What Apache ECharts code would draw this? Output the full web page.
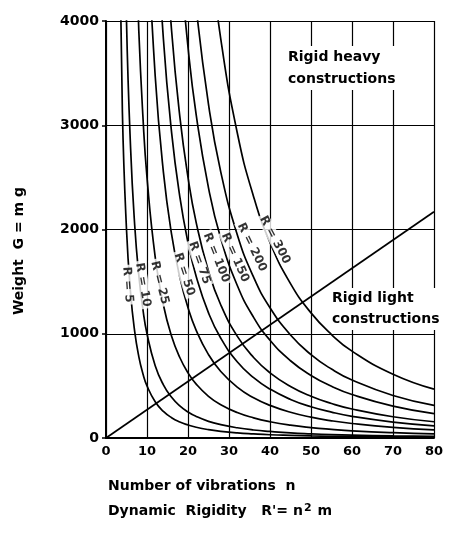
<!DOCTYPE html>
<html>
<head>
<meta charset="utf-8">
<script src="https://cdn.jsdelivr.net/npm/echarts@6/dist/echarts.min.js"></script>
<style>
html,body{margin:0;padding:0;background:#fff}
#container{width:449px;height:536px}
</style>
</head>
<body>
<div id="container"></div>
<script>
// n values the curves were read at (number of vibrations)
var nValues = [2,3,4,5,6,7,8,9,10,12,14,16,18,20,22,25,28,32,36,40,45,50,55,60,70,80];

// weight G, aligned with the tail of nValues
var curveR5   = [5556,3125,2000,1389,1020,781,617,500,347,255,195,154,125,103,80,64,49,39,31,25,20,17,14,10,8];
var curveR10  = [6250,4000,2778,2041,1563,1235,1000,694,510,391,309,250,207,160,128,98,77,63,49,40,33,28,20,16];
var curveR25  = [5102,3906,3086,2500,1736,1276,977,772,625,517,400,319,244,193,156,123,100,83,69,51,39];
var curveR50  = [5000,3472,2551,1953,1543,1250,1033,800,638,488,386,313,247,200,165,139,102,78];
var curveR75  = [5208,3827,2930,2315,1875,1550,1200,957,732,579,469,370,300,248,208,153,117];
var curveR100 = [5102,3906,3086,2500,2066,1600,1276,977,772,625,494,400,331,278,204,156];
var curveR150 = [4630,3750,3099,2400,1913,1465,1157,938,741,600,496,417,306,234];
var curveR200 = [4132,3200,2551,1953,1543,1250,988,800,661,556,408,313];
var curveR300 = [4800,3827,2930,2315,1875,1481,1200,992,833,612,469];

// the straight line between light and heavy constructions
var lineN = [0, 80];
var lineG = [0, 2170];

// curve labels
var labelText = ['R = 5','R = 10','R = 25','R = 50','R = 75','R = 100','R = 150','R = 200','R = 300'];
var labelN = [5.3, 9.0, 13.1, 19.1, 22.8, 26.9, 31.5, 35.6, 41.2];
var labelG = [1470, 1470, 1490, 1570, 1680, 1730, 1730, 1830, 1900];
var labelRot = [-86, -80, -76, -72, -70, -68, -66, -64, -62];

var xTicks = [0,10,20,30,40,50,60,70,80];
var yTicks = [0,1000,2000,3000,4000];

var curves = [curveR5, curveR10, curveR25, curveR50, curveR75, curveR100, curveR150, curveR200, curveR300];

function pairs(vals) {
    var off = nValues.length - vals.length;
    return vals.map(function (g, i) { return [nValues[i + off], g]; });
}

var font = 'DejaVu Sans';
var series = curves.map(function (c, i) {
    return {
        type: 'line',
        data: pairs(c),
        smooth: 0.5,
        showSymbol: false,
        clip: true,
        lineStyle: {color: '#000', width: 1.7},
        z: 3
    };
});
series.push({
    type: 'line',
    data: lineN.map(function (n, i) { return [n, lineG[i]]; }),
    showSymbol: false,
    lineStyle: {color: '#000', width: 1.7},
    z: 3
});
series.push({
    type: 'scatter',
    symbolSize: 0,
    z: 6,
    data: labelText.map(function (t, i) {
        return {
            value: [labelN[i], labelG[i]],
            label: {formatter: t, rotate: labelRot[i]}
        };
    }),
    label: {
        show: true,
        position: 'inside',
        color: '#000',
        fontFamily: font,
        fontWeight: 'bold',
        fontSize: 12,
        backgroundColor: '#fff',
        padding: [0, 2]
    }
});

var chart = echarts.init(document.getElementById('container'));
chart.setOption({
    animation: false,
    backgroundColor: '#fff',
    grid: {left: 106, right: 15, top: 21, bottom: 98},
    xAxis: {
        type: 'value',
        min: xTicks[0],
        max: xTicks[xTicks.length - 1],
        interval: 10,
        axisLine: {lineStyle: {color: '#000', width: 2}},
        axisTick: {show: false},
        splitLine: {show: true, lineStyle: {color: '#000', width: 1.2}},
        axisLabel: {color: '#000', fontFamily: font, fontWeight: 'bold', fontSize: 13, margin: 7,
            formatter: function (v) { return String(v); }}
    },
    yAxis: {
        type: 'value',
        min: yTicks[0],
        max: yTicks[yTicks.length - 1],
        interval: 1000,
        axisLine: {show: true, lineStyle: {color: '#000', width: 2}},
        axisTick: {show: true, length: 4, lineStyle: {color: '#000', width: 1.5}},
        splitLine: {show: true, lineStyle: {color: '#000', width: 1.2}},
        axisLabel: {color: '#000', fontFamily: font, fontWeight: 'bold', fontSize: 14, margin: 7,
            formatter: function (v) { return String(v); }}
    },
    graphic: [
        {type: 'text', left: 288, top: 46, z: 10,
            style: {text: 'Rigid heavy\nconstructions', fill: '#000', font: 'bold 14px DejaVu Sans', lineHeight: 22, backgroundColor: '#fff'}},
        {type: 'text', left: 332, top: 288, z: 10,
            style: {text: 'Rigid light\nconstructions', fill: '#000', font: 'bold 14px DejaVu Sans', lineHeight: 21, backgroundColor: '#fff'}},
        {type: 'text', left: 108, top: 479,
            style: {text: 'Number of vibrations  n', fill: '#000', font: 'bold 14px DejaVu Sans'}},
        {type: 'text', left: 108, top: 503,
            style: {
                text: "{t|Dynamic  Rigidity   R'= n}{s|2}{t| m}",
                rich: {
                    t: {fill: '#000', font: 'bold 14px DejaVu Sans'},
                    s: {fill: '#000', font: 'bold 11px DejaVu Sans', verticalAlign: 'top', padding: [0, 1, 5, 1]}
                }
            }},
        {type: 'text', left: 12, top: 187, rotation: Math.PI / 2,
            style: {text: 'Weight  G = m g', fill: '#000', font: 'bold 14px DejaVu Sans'}}
    ],
    series: series
});
</script>
</body>
</html>
